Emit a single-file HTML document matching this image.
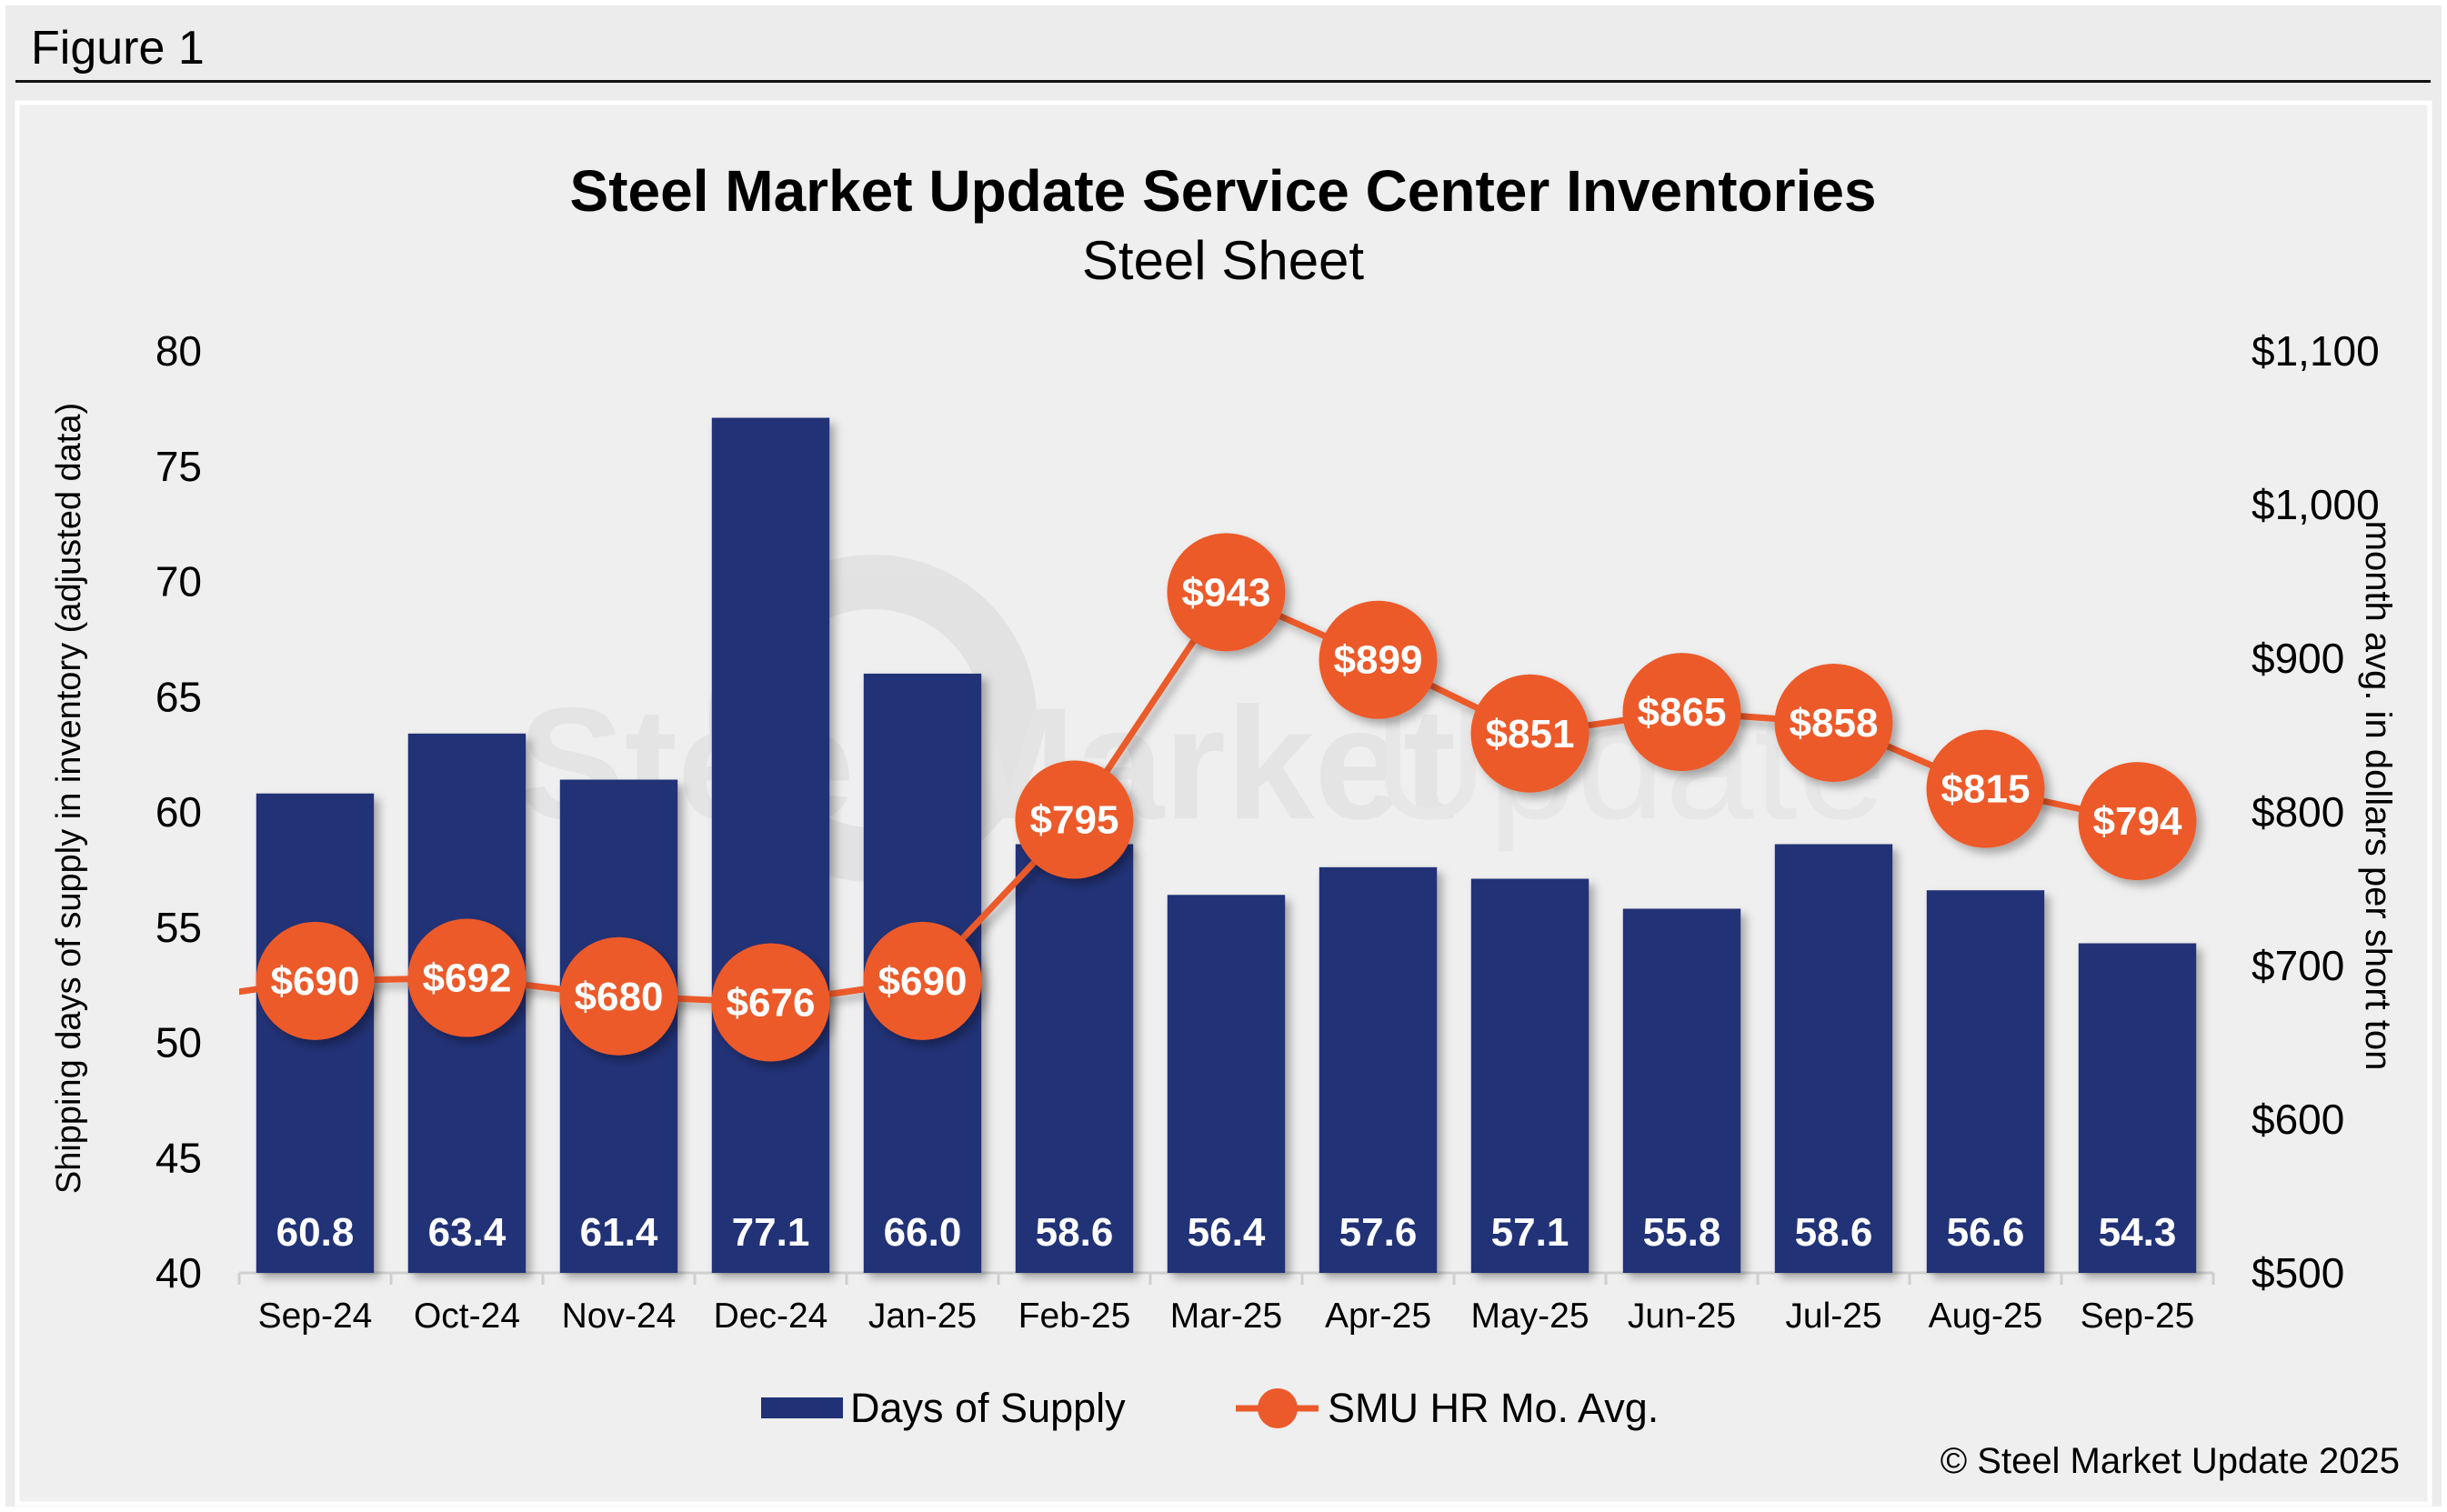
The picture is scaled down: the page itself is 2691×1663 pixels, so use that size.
<!DOCTYPE html>
<html><head><meta charset="utf-8">
<style>
html,body{margin:0;padding:0;background:#ececec;}
svg{display:block;font-family:"Liberation Sans",Arial,sans-serif;}
</style></head>
<body>
<svg id="chart" width="2691" height="1663" viewBox="0 0 2691 1663" xmlns="http://www.w3.org/2000/svg">
<defs>
<filter id="sh" x="-20%" y="-20%" width="150%" height="150%"><feDropShadow dx="6" dy="6" stdDeviation="5" flood-color="#000" flood-opacity="0.3"/></filter>
<clipPath id="plotclip"><rect x="263" y="300" width="2180" height="1110"/></clipPath>
</defs>
<rect x="0" y="0" width="2691" height="1663" fill="#ffffff"/>
<rect x="6" y="6" width="2679" height="1651" fill="#ececec"/>
<text x="34" y="70" font-size="52" fill="#000">Figure 1</text>
<rect x="17" y="88" width="2656" height="3" fill="#111"/>
<rect x="19" y="113" width="2653" height="1541" fill="#efefef" stroke="#ffffff" stroke-width="5"/>
<g opacity="0.55">
<circle cx="960" cy="790" r="150" fill="none" stroke="#d8d8d8" stroke-width="60"/>
<text x="570" y="900" font-size="175" fill="#dcdcdc" font-weight="bold">Steel Market</text>
<text x="1510" y="900" font-size="175" fill="#e2e2e2">Update</text>
</g>
<text x="1345" y="232" text-anchor="middle" font-size="64" font-weight="bold" fill="#000">Steel Market Update Service Center Inventories</text>
<text x="1345" y="307" text-anchor="middle" font-size="60" fill="#000">Steel Sheet</text>
<text transform="translate(88,878) rotate(-90)" text-anchor="middle" font-size="38" fill="#000">Shipping days of supply in inventory (adjusted data)</text>
<text transform="translate(2602,875) rotate(90)" text-anchor="middle" font-size="40" fill="#000">month avg. in dollars per short ton</text>
<g id="axes"></g>
<g id="bars"></g>
<g id="line"></g>
<g>
<rect x="837" y="1537" width="90" height="23" fill="#213176"/>
<text x="935" y="1564" font-size="45" fill="#000">Days of Supply</text>
<line x1="1359" y1="1549" x2="1450" y2="1549" stroke="#ec5a2b" stroke-width="7"/>
<circle cx="1405" cy="1549" r="22" fill="#ec5a2b"/>
<text x="1460" y="1564" font-size="45" fill="#000">SMU HR Mo. Avg.</text>
</g>
<text x="2639" y="1620" text-anchor="end" font-size="40" fill="#000">© Steel Market Update 2025</text>
</svg>
<script>
const categories = ["Sep-24","Oct-24","Nov-24","Dec-24","Jan-25","Feb-25","Mar-25","Apr-25","May-25","Jun-25","Jul-25","Aug-25","Sep-25"];
const daysOfSupply = [60.8,63.4,61.4,77.1,66.0,58.6,56.4,57.6,57.1,55.8,58.6,56.6,54.3];
const hrPrice = [690,692,680,676,690,795,943,899,851,865,858,815,794];
const priorPrice = 676;
const leftTicks = [40,45,50,55,60,65,70,75,80];
const rightTicks = [500,600,700,800,900,1000,1100];
const rightTickLabels = ["$500","$600","$700","$800","$900","$1,000","$1,100"];

const NS="http://www.w3.org/2000/svg";
const X0=263, X1=2434, YB=1400, YT=386;
const step=(X1-X0)/categories.length;
const xc=i=>X0+step*(i+0.5);
const yL=v=>YB-(v-40)/(80-40)*(YB-YT);
const yR=v=>YB-(v-500)/(1100-500)*(YB-YT);
function mk(tag,attrs,parent,txt){const e=document.createElementNS(NS,tag);for(const k in attrs)e.setAttribute(k,attrs[k]);if(txt!==undefined)e.textContent=txt;parent.appendChild(e);return e;}

const axes=document.getElementById('axes');
leftTicks.forEach(t=>{
  const e=mk('text',{x:222,y:yL(t)+16,'text-anchor':'end','font-size':46,fill:'#000'},axes,String(t));
  
  
});
rightTicks.forEach((t,i)=>{
  const e=mk('text',{x:2476,y:yR(t)+16,'font-size':46,fill:'#000'},axes,rightTickLabels[i]);
  
  
});
const base=mk('line',{x1:X0,y1:YB,x2:X1,y2:YB,stroke:'#cfcfcf','stroke-width':3},axes);


for(let i=0;i<=categories.length;i++){
  const tk=mk('line',{x1:X0+step*i,y1:YB,x2:X0+step*i,y2:YB+13,stroke:'#cfcfcf','stroke-width':3},axes);
  
  
}
categories.forEach((c,i)=>{
  const e=mk('text',{x:xc(i),y:1460,'text-anchor':'middle','font-size':39,fill:'#000'},axes,c);
  
  
});

const bars=document.getElementById('bars');
const bw=step*0.775;
daysOfSupply.forEach((v,i)=>{
  const r=mk('rect',{x:xc(i)-bw/2,y:yL(v),width:bw,height:YB-yL(v),fill:'#213176',filter:'url(#sh)'},bars);
  
  
  const t=mk('text',{x:xc(i),y:1370,'text-anchor':'middle','font-size':44,'font-weight':'bold',fill:'#fff'},bars,v.toFixed(1));
  
  
});

const line=document.getElementById('line');
const g0=mk('g',{'clip-path':'url(#plotclip)'},line);


mk('line',{x1:xc(-1),y1:yR(priorPrice),x2:xc(0),y2:yR(hrPrice[0]),stroke:'#ec5a2b','stroke-width':7},g0);
const pts=hrPrice.map((v,i)=>xc(i)+','+yR(v)).join(' ');
const pl=mk('polyline',{points:pts,fill:'none',stroke:'#ec5a2b','stroke-width':7,filter:'url(#sh)'},line);


hrPrice.forEach((v,i)=>{
  const c=mk('circle',{cx:xc(i),cy:yR(v),r:65,fill:'#ec5a2b',filter:'url(#sh)'},line);
  
  
  const t=mk('text',{x:xc(i),y:yR(v)+15,'text-anchor':'middle','font-size':44,'font-weight':'bold',fill:'#fff'},line,'$'+v);
  
  
});
</script>
</body></html>
